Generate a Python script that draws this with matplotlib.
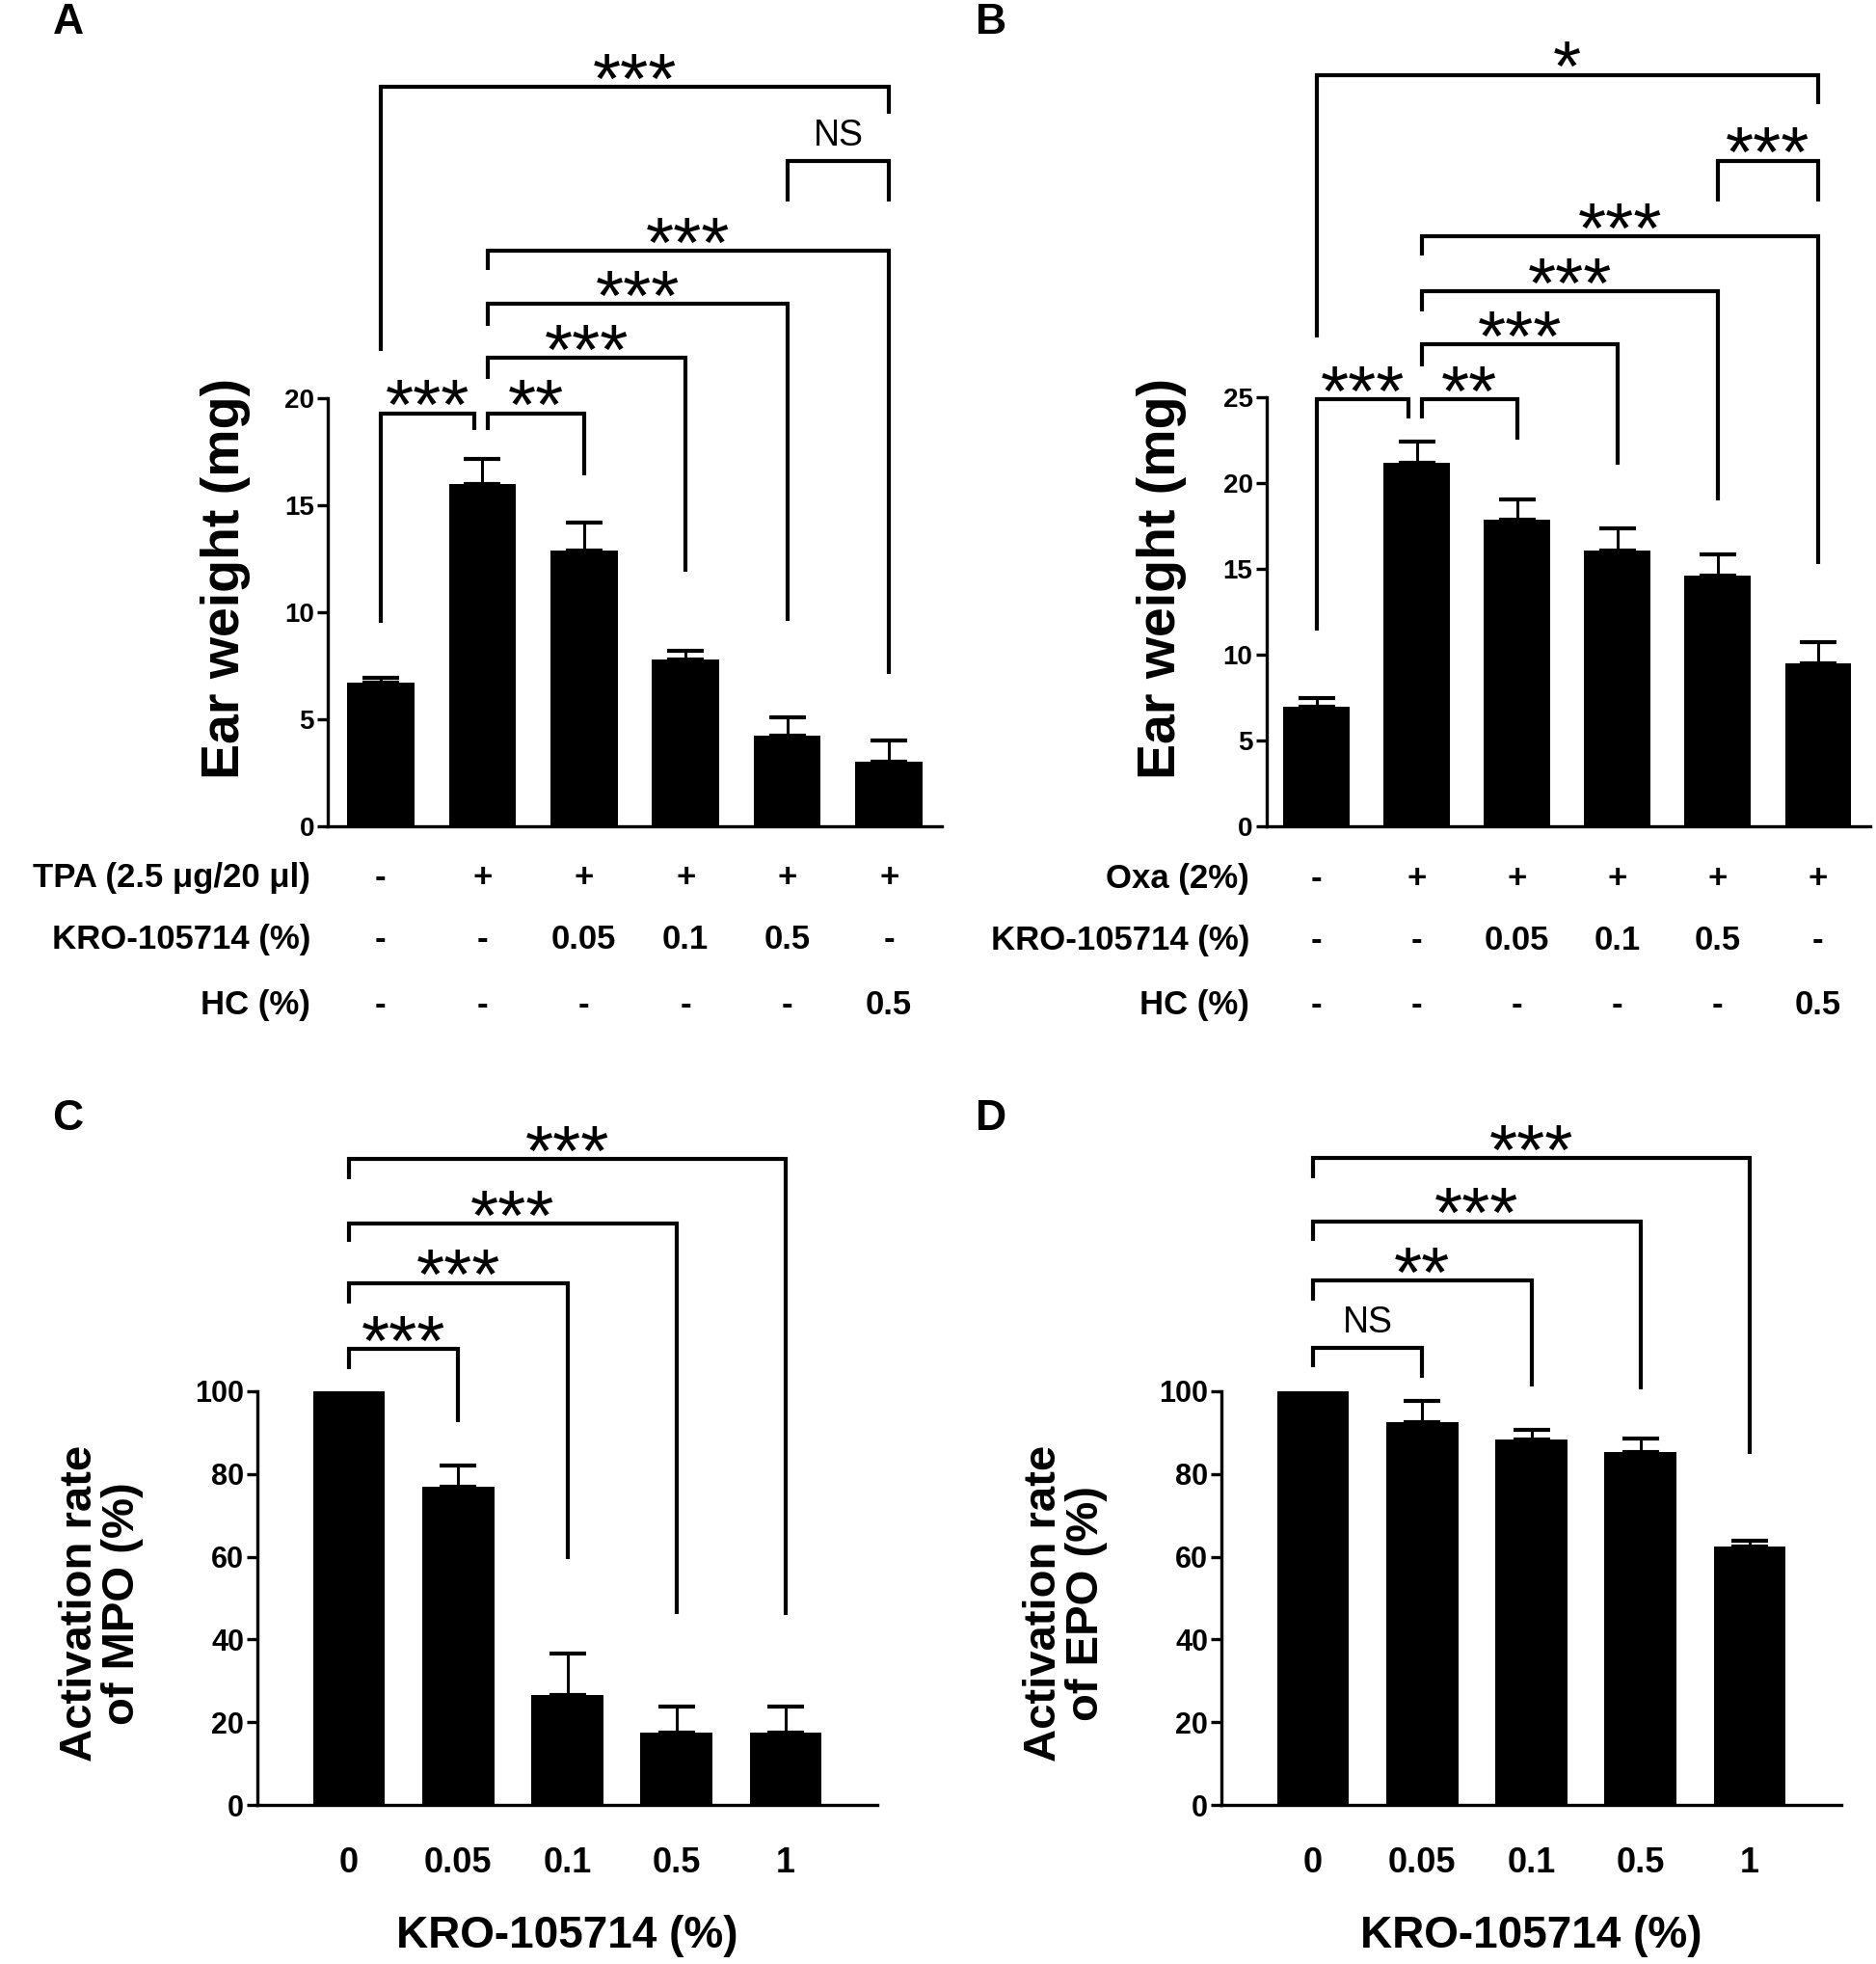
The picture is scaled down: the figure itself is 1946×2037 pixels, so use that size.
import matplotlib
matplotlib.use('Agg')
import matplotlib.pyplot as plt
import numpy as np

plt.rcParams['font.family'] = ['Liberation Sans', 'DejaVu Sans']

W, H, DPI = 1946, 2037, 100

# ---------------- data ----------------
a_values = [6.7, 16.0, 12.9, 7.8, 4.25, 3.0]
a_errors = [0.25, 1.15, 1.3, 0.4, 0.85, 1.0]
a_row_labels = ['TPA (2.5 μg/20 μl)', 'KRO-105714 (%)', 'HC (%)']
a_rows = [['-', '+', '+', '+', '+', '+'],
          ['-', '-', '0.05', '0.1', '0.5', '-'],
          ['-', '-', '-', '-', '-', '0.5']]
a_yticks = [0, 5, 10, 15, 20]

b_values = [7.0, 21.2, 17.9, 16.1, 14.65, 9.5]
b_errors = [0.5, 1.25, 1.15, 1.25, 1.2, 1.25]
b_row_labels = ['Oxa (2%)', 'KRO-105714 (%)', 'HC (%)']
b_rows = [['-', '+', '+', '+', '+', '+'],
          ['-', '-', '0.05', '0.1', '0.5', '-'],
          ['-', '-', '-', '-', '-', '0.5']]
b_yticks = [0, 5, 10, 15, 20, 25]

cd_categories = ['0', '0.05', '0.1', '0.5', '1']
c_values = [100, 77, 26.5, 17.5, 17.5]
c_errors = [0, 5, 10, 6.2, 6.2]
d_values = [100, 92.5, 88.4, 85.3, 62.5]
d_errors = [0, 5.2, 2.3, 3.3, 1.3]
cd_yticks = [0, 20, 40, 60, 80, 100]

# significance brackets: (bar i, bar j, level, left leg end, right leg end, label)
a_brackets = [(0, 5, 34.55, 22.2, 33.3, '***'),
              (4, 5, 31.1, 29.2, 29.2, 'NS'),
              (1, 5, 26.9, 26.0, 7.1, '***'),
              (1, 4, 24.4, 23.4, 9.6, '***'),
              (1, 3, 21.9, 20.9, 11.9, '***'),
              (1, 2, 19.3, 18.5, 16.4, '**'),
              (0, 1, 19.3, 9.5, 18.5, '***')]
b_brackets = [(0, 5, 43.8, 28.5, 42.1, '*'),
              (4, 5, 38.8, 36.4, 36.4, '***'),
              (1, 5, 34.4, 33.3, 15.3, '***'),
              (1, 4, 31.2, 30.0, 19.0, '***'),
              (1, 3, 28.1, 26.8, 21.1, '***'),
              (1, 2, 24.9, 23.8, 22.55, '**'),
              (0, 1, 24.9, 11.4, 23.8, '***')]
c_brackets = [(0, 4, 156.0, 151.1, 45.9, '***'),
              (0, 3, 140.4, 135.9, 46.1, '***'),
              (0, 2, 126.1, 121.2, 59.5, '***'),
              (0, 1, 110.2, 105.4, 92.5, '***')]
d_brackets = [(0, 4, 156.3, 151.4, 84.9, '***'),
              (0, 3, 141.0, 136.3, 100.4, '***'),
              (0, 2, 126.6, 121.7, 101.0, '**'),
              (0, 1, 110.5, 105.8, 103.3, 'NS')]

# ---------------- figure ----------------
fig = plt.figure(figsize=(W / DPI, H / DPI), dpi=DPI)
fig.patch.set_facecolor('white')


def px_axes(left, right, top, bottom):
    return fig.add_axes([left / W, 1 - bottom / H, (right - left) / W, (bottom - top) / H])


LW = 2.4


def style_axes(ax, yticks, ylab_size):
    for s in ['top', 'right']:
        ax.spines[s].set_visible(False)
    for s in ['left', 'bottom']:
        ax.spines[s].set_linewidth(LW)
    ax.set_yticks(yticks)
    ax.set_ylim(yticks[0], yticks[-1])
    ax.tick_params(axis='y', direction='out', length=8, width=LW, pad=2,
                   labelsize=ylab_size)
    for lab in ax.get_yticklabels():
        lab.set_fontweight('bold')
    ax.tick_params(axis='x', length=0)


def draw_bars(ax, values, errors):
    x = np.arange(len(values))
    ax.bar(x, values, width=0.66, color='black', edgecolor='none', zorder=2)
    ax.errorbar(x, values, yerr=[np.zeros(len(values)), errors], fmt='none',
                ecolor='black', elinewidth=2.2, capsize=13.5, capthick=3, zorder=3)


def draw_brackets(ax, brackets, second_bar_shift):
    for (i, j, lvl, yl, yr, lab) in brackets:
        xl = i + (second_bar_shift if i == 1 else 0.0)
        xr = j - (second_bar_shift * 1.6 if j == 1 else 0.0)
        ax.plot([xl, xl, xr, xr], [yl, lvl, lvl, yr], color='black', lw=3.0,
                clip_on=False, solid_joinstyle='miter', solid_capstyle='butt', zorder=4)
        xm = (xl + xr) / 2
        if lab == 'NS':
            ax.annotate(lab, xy=(xm, lvl), xytext=(0, 11), textcoords='offset points',
                        ha='center', va='baseline', fontsize=27, annotation_clip=False)
        else:
            ax.annotate(lab, xy=(xm, lvl), xytext=(0, -12), textcoords='offset points',
                        ha='center', va='baseline', fontsize=54, annotation_clip=False)


# ---- Panel A ----
axA = px_axes(340, 977, 413, 857)
draw_bars(axA, a_values, a_errors)
axA.set_xlim(-0.52, 5.52)
style_axes(axA, a_yticks, 20)
axA.set_xticks([])
draw_brackets(axA, a_brackets, 0.05)
axA.text(-0.166, 0.579, 'Ear weight (mg)', transform=axA.transAxes, rotation=90,
         ha='center', va='center', fontsize=40, fontweight='bold')
a_row_y = [920, 984, 1052]
for r, (lab, vals) in enumerate(zip(a_row_labels, a_rows)):
    yax = (857 - a_row_y[r]) / 444
    axA.text(-0.028, yax, lab, transform=axA.transAxes, ha='right', va='baseline',
             fontsize=25, fontweight='bold')
    for k, v in enumerate(vals):
        axA.text(k, yax, v, transform=axA.get_xaxis_transform(), ha='center',
                 va='baseline', fontsize=25, fontweight='bold')

# ---- Panel B ----
axB = px_axes(1313.5, 1940, 412.3, 857.3)
draw_bars(axB, b_values, b_errors)
axB.set_xlim(-0.5, 5.52)
style_axes(axB, b_yticks, 20)
axB.set_xticks([])
draw_brackets(axB, b_brackets, 0.05)
axB.text(-0.173, 0.579, 'Ear weight (mg)', transform=axB.transAxes, rotation=90,
         ha='center', va='center', fontsize=40, fontweight='bold')
b_row_y = [921, 985, 1052]
for r, (lab, vals) in enumerate(zip(b_row_labels, b_rows)):
    yax = (857.3 - b_row_y[r]) / 445
    axB.text(-0.028, yax, lab, transform=axB.transAxes, ha='right', va='baseline',
             fontsize=25, fontweight='bold')
    for k, v in enumerate(vals):
        axB.text(k, yax, v, transform=axB.get_xaxis_transform(), ha='center',
                 va='baseline', fontsize=25, fontweight='bold')

# ---- Panels C, D ----
for (left, right, vals, errs, brk, ylab) in [
        (267, 910, c_values, c_errors, c_brackets, 'Activation rate\nof MPO (%)'),
        (1267, 1910, d_values, d_errors, d_brackets, 'Activation rate\nof EPO (%)')]:
    ax = px_axes(left, right, 1442.7, 1872.3)
    draw_bars(ax, vals, errs)
    ax.set_xlim(-0.84, 4.84)
    style_axes(ax, cd_yticks, 22)
    ax.set_xticks(np.arange(len(cd_categories)))
    ax.set_xticklabels(cd_categories, fontsize=26, fontweight='bold')
    ax.tick_params(axis='x', pad=31)
    draw_brackets(ax, brk, 0.0)
    ax.text(-0.252, 0.487, ylab, transform=ax.transAxes, rotation=90, ha='center',
            va='center', fontsize=34, fontweight='bold', linespacing=1.0,
            multialignment='center')
    ax.text(0.5, (1872.3 - 2020) / 429.6, 'KRO-105714 (%)', transform=ax.transAxes,
            ha='center', va='baseline', fontsize=33, fontweight='bold')

# ---- panel letters ----
for lab, (cx, by) in zip('ABCD', [(71, 35), (1028, 35), (70, 1172), (1028, 1172)]):
    fig.text(cx / W, 1 - by / H, lab, ha='center', va='baseline', fontsize=32,
             fontweight='bold')

fig.savefig('out.png', dpi=DPI, facecolor='white')
